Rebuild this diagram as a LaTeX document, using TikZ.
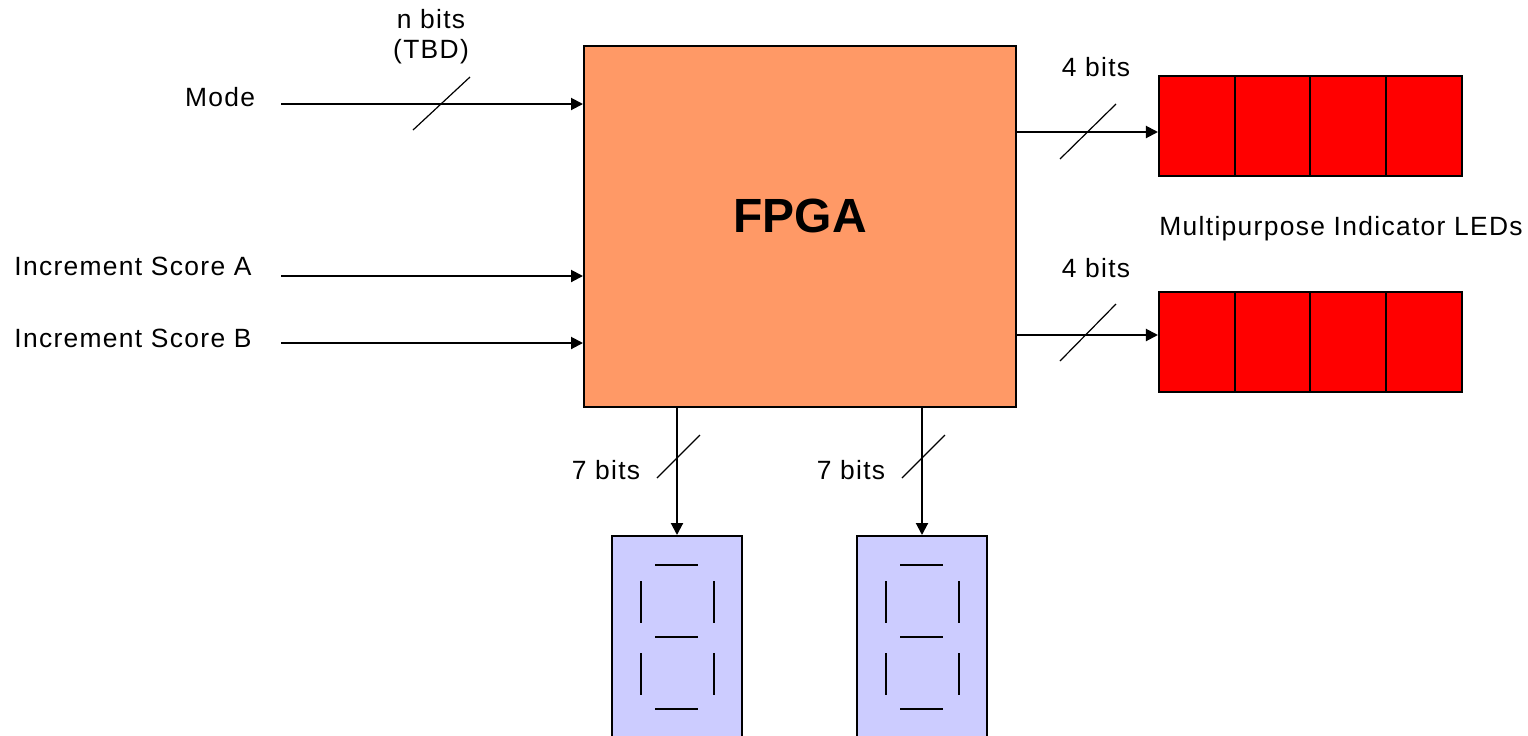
\documentclass[tikz,border=0pt]{standalone}
\usepackage{fontspec}
\setmainfont{Liberation Sans}
\newfontfamily\lblfont[LetterSpace=5]{Liberation Sans}
\usetikzlibrary{arrows.meta}
\tikzset{
  lbl/.style={font=\lblfont\fontsize{13.2}{15}\selectfont, inner sep=0pt},
  arr/.style={line width=1pt, -{Triangle[length=6pt,width=6pt]}},
  slash/.style={line width=0.6pt},
  fpgabox/.style={draw=black, line width=1pt, fill=fpgacol, minimum width=216pt, minimum height=180.5pt, inner sep=0pt, font=\fontsize{24}{28}\selectfont\bfseries},
  ledcell/.style={draw=black, line width=1pt, fill=ledred, minimum width=37.9pt, minimum height=50pt, inner sep=0pt},
  segbox/.style={draw=black, line width=1pt, fill=segblue, minimum width=65pt, minimum height=120pt, inner sep=0pt},
  seg/.style={line width=1pt}
}
\definecolor{fpgacol}{HTML}{FF9966}
\definecolor{ledred}{HTML}{FF0000}
\definecolor{segblue}{HTML}{CCCCFF}
\begin{document}
\begin{tikzpicture}[x=0.5pt,y=-0.5pt]
\useasboundingbox (0,0) rectangle (1528,735);
\clip (0,0) rectangle (1528,735);
% FPGA
\node[fpgabox] (fpga) at (800,226.5) {\raisebox{11pt}{FPGA}};
% inputs
\node[lbl] (mode) at (220,97) {Mode};
\node[lbl, align=center] (nbits) at (431,37) {n bits\\(TBD)};
\node[lbl, anchor=west] (incA) at (14,266) {Increment Score A};
\node[lbl, anchor=west] (incB) at (14,338) {Increment Score B};
\coordinate (m0) at (281,104);
\coordinate (a0) at (281,276);
\coordinate (b0) at (281,343);
\draw[arr] (m0) -- (m0 -| fpga.west);
\draw[arr] (a0) -- (a0 -| fpga.west);
\draw[arr] (b0) -- (b0 -| fpga.west);
\draw[slash] (413,130) -- (470,77);
% LEDs
\foreach \i in {0,1,2,3}{
  \node[ledcell] (t\i) at ({1159+75.75*(\i+0.5)},125.5) {};
  \node[ledcell] (u\i) at ({1159+75.75*(\i+0.5)},341.5) {};
}
\node[lbl] (fb1) at (1096,67) {4 bits};
\node[lbl] (fb2) at (1096,268) {4 bits};
\node[lbl, anchor=west] (mled) at (1159,229) {Multipurpose Indicator LEDs};
\coordinate (o1) at (1016,132);
\coordinate (o2) at (1016,335);
\draw[arr] (o1) -- (o1 -| t0.west);
\draw[arr] (o2) -- (o2 -| u0.west);
\draw[slash] (1060,159) -- (1116,104);
\draw[slash] (1060,361) -- (1116,304);
% seven segment
\node[segbox, anchor=north] (d1) at (677,535) {};
\node[segbox, anchor=north] (d2) at (922,535) {};
\draw[arr] (fpga.south -| d1.north) -- (d1.north);
\draw[arr] (fpga.south -| d2.north) -- (d2.north);
\node[lbl] (sb1) at (606,470) {7 bits};
\node[lbl] (sb2) at (851,470) {7 bits};
\draw[slash] (657,478) -- (700,435);
\draw[slash] (902,478) -- (945,435);
\foreach \dx in {0,245}{
  \begin{scope}[xshift=\dx*0.5pt]
  \draw[seg] (655,565) -- (698,565);
  \draw[seg] (655,637) -- (698,637);
  \draw[seg] (655,709) -- (698,709);
  \draw[seg] (641,581) -- (641,623);
  \draw[seg] (714,581) -- (714,623);
  \draw[seg] (641,653) -- (641,695);
  \draw[seg] (714,653) -- (714,695);
  \end{scope}
}
\end{tikzpicture}
\end{document}
